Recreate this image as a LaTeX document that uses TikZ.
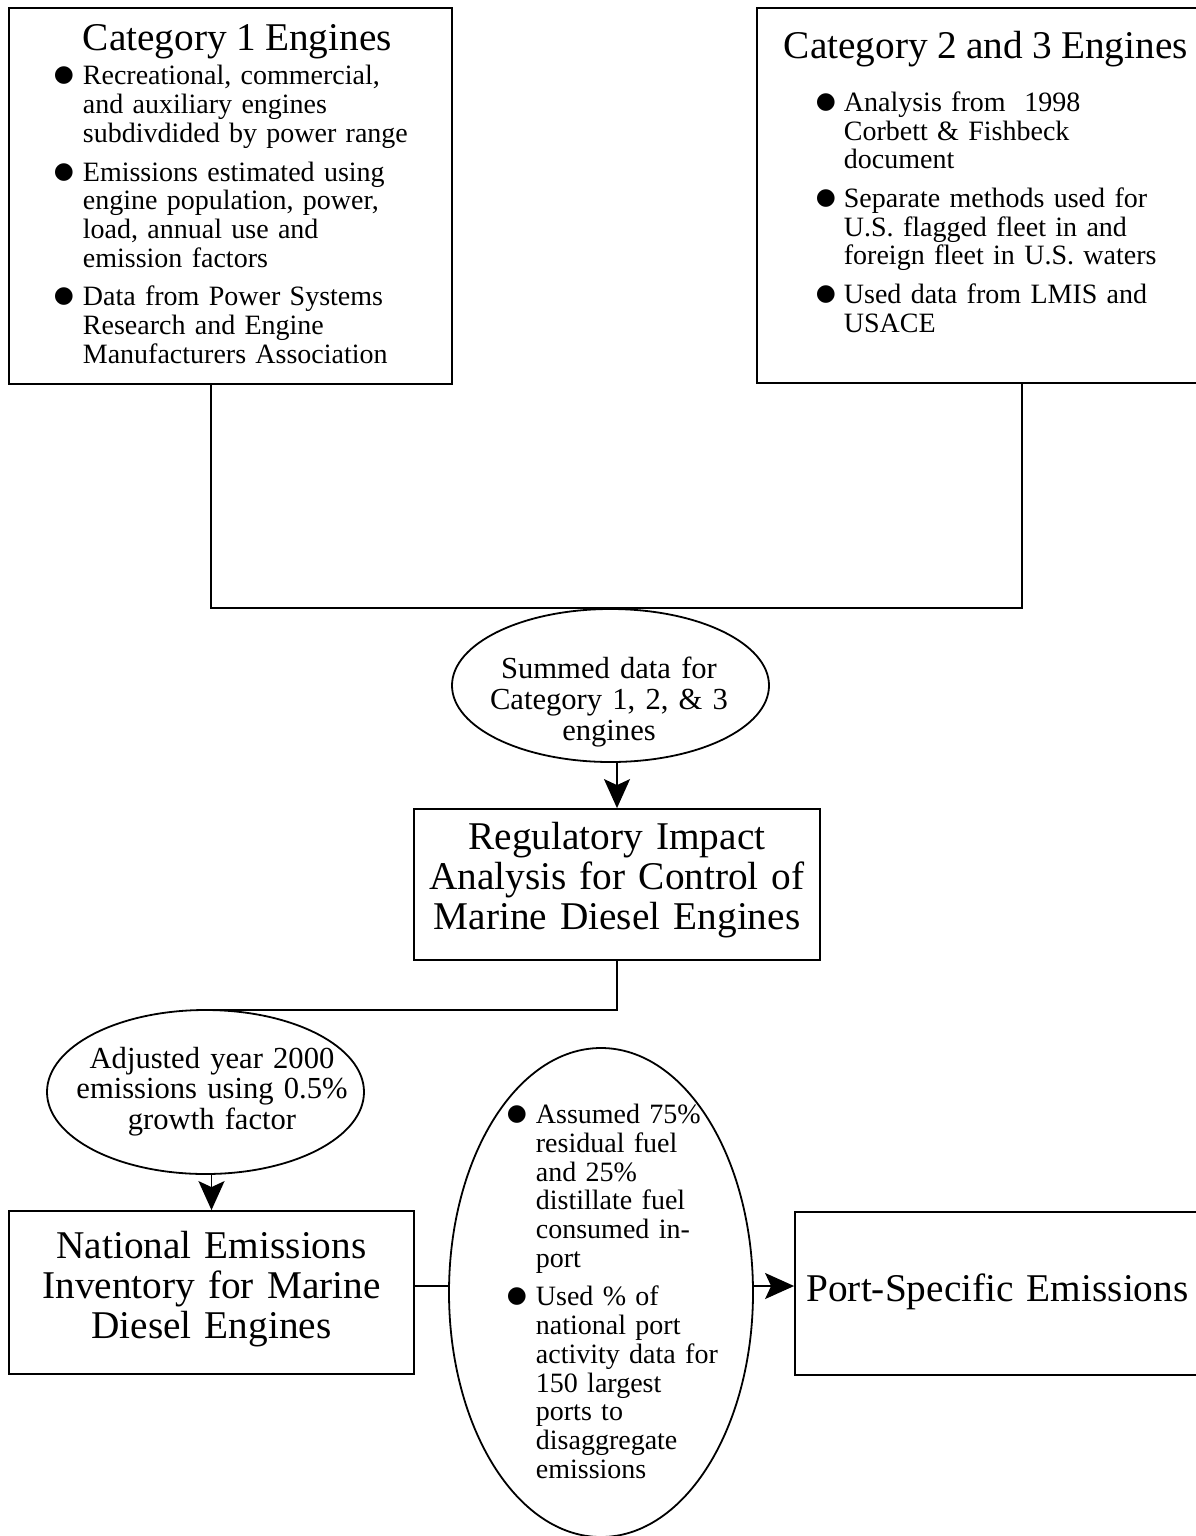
\documentclass[tikz,border=0pt]{standalone}
\usepackage{fontspec}
\setmainfont{Liberation Serif}
\newfontfamily\dotfont{DejaVu Sans}
\usetikzlibrary{shapes.geometric,arrows.meta}

\newcommand{\bigtext}{\fontsize{39.3pt}{39.8pt}\selectfont}
\newcommand{\midtext}{\fontsize{30.6pt}{30.8pt}\selectfont}
\newcommand{\smalltext}{\fontsize{28pt}{28.7pt}\selectfont}
\newcommand{\dotmark}{\raisebox{3pt}{\hspace*{-2pt}\dotfont\fontsize{23pt}{23pt}\selectfont ●}}
\newcommand{\bpoint}[2]{\par\hangindent=#1\hangafter=1\noindent\makebox[#1][l]{\dotmark}#2\par}
\newcommand{\itemgap}{\vspace{10pt}}

\begin{document}
\begin{tikzpicture}[x=1pt, y=-1pt, line width=1.8pt,
  box/.style={draw, rectangle, inner sep=0pt},
  oval/.style={draw, ellipse, inner sep=0pt},
  txt/.style={inner sep=0pt, font=\smalltext, align=left},
  flow/.style={-{Stealth[length=29pt,width=26pt,inset=6pt]}}]
  \useasboundingbox (0,0) rectangle (1196,1536);

  % Shapes
  \node[box, minimum width=443pt, minimum height=376pt] (cat1) at (230.5,196) {};
  \node[box, minimum width=457pt, minimum height=375pt] (cat23) at (985.5,195.5) {};
  \node[oval, minimum width=317pt, minimum height=153pt] (sum) at (610.5,685.5) {};
  \node[box, minimum width=406pt, minimum height=151pt] (ria) at (617,884.5) {};
  \node[oval, minimum width=317pt, minimum height=164pt] (adj) at (205.5,1092) {};
  \node[box, minimum width=405pt, minimum height=163pt] (nei) at (211.5,1292.5) {};
  \node[oval, minimum width=304pt, minimum height=489pt] (alloc) at (601,1292.5) {};
  \node[box, minimum width=405pt, minimum height=163pt] (port) at (997.5,1293.5) {};

  % Texts
  \node[txt, text width=370pt, anchor=base west] (cat1txt) at (55,51) {%
    {\bigtext\hspace*{27pt}Category 1 Engines\par}\vspace{5.3pt}%
    \bpoint{27pt}{Recreational, commercial,\newline and auxiliary engines\newline subdivdided by power range}\itemgap
    \bpoint{27pt}{Emissions estimated using\newline engine population, power,\newline load, annual use and\newline emission factors}\itemgap
    \bpoint{27pt}{Data from Power Systems\newline Research and Engine\newline Manufacturers Association}};
  \node[txt, text width=410pt, anchor=base west] (cat23txt) at (783,58.5) {%
    {\bigtext Category 2 and 3 Engines\par}\vspace{24.3pt}\leftskip=34pt
    \bpoint{26pt}{Analysis from \ 1998\newline Corbett \& Fishbeck\newline document}\itemgap
    \bpoint{26pt}{Separate methods used for\newline U.S. flagged fleet in and\newline foreign fleet in U.S. waters}\itemgap
    \bpoint{26pt}{Used data from LMIS and\newline USACE}};
  \node[txt, text width=280pt, align=center, font=\midtext, anchor=base] (sumtxt) at (609,678.5)
    {Summed data for\\ Category 1, 2, \& 3\\ engines};
  \node[txt, text width=400pt, align=center, font=\bigtext, anchor=base] (riatxt) at (617,849.5)
    {Regulatory Impact\\ Analysis for Control of\\ Marine Diesel Engines};
  \node[txt, text width=290pt, align=center, font=\midtext, anchor=base] (adjtxt) at (212,1068)
    {Adjusted year 2000\\ emissions using 0.5\%\\ growth factor};
  \node[txt, text width=400pt, align=center, font=\bigtext, anchor=base] (neitxt) at (211.5,1258.5)
    {National Emissions\\ Inventory for Marine\\ Diesel Engines};
  \node[txt, text width=230pt, anchor=base west] (alloctxt) at (508,1095) {%
    \bpoint{27pt}{Assumed 75\%\newline residual fuel\newline and 25\%\newline distillate fuel\newline consumed in-\newline port}\itemgap
    \bpoint{27pt}{Used \% of\newline national port\newline activity data for\newline 150 largest\newline ports to\newline disaggregate\newline emissions}};
  \node[txt, text width=400pt, align=center, font=\bigtext, anchor=base] (porttxt) at (997.5,1301)
    {Port-Specific Emissions};

  % Connectors
  \coordinate (j1) at (211,608);
  \coordinate (j2) at (1022,608);
  \coordinate (j3) at (212,1010);
  \coordinate (lvl) at (0,1286);
  \draw (cat1.south -| j1) -- (j1) -- (j2) -- (cat23.south -| j2);
  \draw[flow] (ria.north |- sum.south) -- (ria.north);
  \draw (ria.south) |- (j3);
  \draw[flow] (nei.north |- adj.south) -- (nei.north);
  \draw (nei.east |- lvl) -- (alloc.west |- lvl);
  \draw[flow] (alloc.east |- lvl) -- (port.west |- lvl);
\end{tikzpicture}
\end{document}
